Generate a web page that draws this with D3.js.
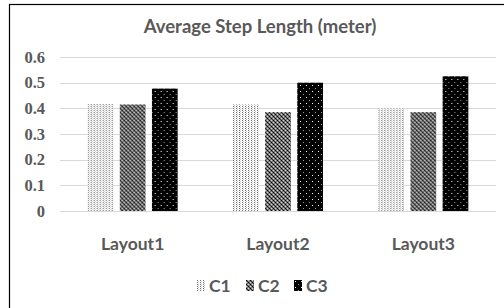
<!DOCTYPE html>
<html>
<head>
<meta charset="utf-8">
<script src="https://cdn.jsdelivr.net/npm/d3@7"></script>
<style>
body { margin: 0; background: #fff; }
.ytick { font-family: "Liberation Serif", "Times New Roman", "DejaVu Serif", serif; }
</style>
</head>
<body>
<script>
var categories = ["Layout1", "Layout2", "Layout3"];
var seriesNames = ["C1", "C2", "C3"];
var c1 = [0.417, 0.415, 0.40];
var c2 = [0.415, 0.385, 0.385];
var c3 = [0.477, 0.50, 0.525];
var yTicks = [0, 0.1, 0.2, 0.3, 0.4, 0.5, 0.6];

var seriesValues = [c1, c2, c3];
var width = 504, height = 308;

var svg = d3.select("body").append("svg")
  .attr("width", width)
  .attr("height", height);

var defs = svg.append("defs");

// C1: light dotted
var p1 = defs.append("pattern").attr("id", "pat-c1")
  .attr("patternUnits", "userSpaceOnUse").attr("width", 3).attr("height", 2);
p1.append("rect").attr("width", 3).attr("height", 2).attr("fill", "#ffffff");
p1.append("rect").attr("x", 0).attr("y", 0).attr("width", 1).attr("height", 1).attr("fill", "#6f6f6f");
p1.append("rect").attr("x", 1).attr("y", 1).attr("width", 1).attr("height", 1).attr("fill", "#c8c8c8");

// C2: gray checker / diamond
var p2 = defs.append("pattern").attr("id", "pat-c2")
  .attr("patternUnits", "userSpaceOnUse").attr("width", 4).attr("height", 4);
p2.append("rect").attr("width", 4).attr("height", 4).attr("fill", "#7a7a7a");
p2.append("rect").attr("x", 0).attr("y", 0).attr("width", 1).attr("height", 1).attr("fill", "#000");
p2.append("rect").attr("x", 2).attr("y", 2).attr("width", 1).attr("height", 1).attr("fill", "#000");
p2.append("rect").attr("x", 2).attr("y", 0).attr("width", 1).attr("height", 1).attr("fill", "#d0d0d0");
p2.append("rect").attr("x", 0).attr("y", 2).attr("width", 1).attr("height", 1).attr("fill", "#d0d0d0");
p2.append("rect").attr("x", 1).attr("y", 1).attr("width", 1).attr("height", 1).attr("fill", "#333");
p2.append("rect").attr("x", 3).attr("y", 3).attr("width", 1).attr("height", 1).attr("fill", "#333");

// C3: black with white dots
var p3 = defs.append("pattern").attr("id", "pat-c3")
  .attr("patternUnits", "userSpaceOnUse").attr("width", 6).attr("height", 6);
p3.append("rect").attr("width", 6).attr("height", 6).attr("fill", "#000");
p3.append("rect").attr("x", 1).attr("y", 1).attr("width", 1).attr("height", 1).attr("fill", "#ffffff");
p3.append("rect").attr("x", 4).attr("y", 4).attr("width", 1).attr("height", 1).attr("fill", "#9a9a9a");

var patterns = ["url(#pat-c1)", "url(#pat-c2)", "url(#pat-c3)"];

// outer frame (left/top edges visible)
svg.append("rect")
  .attr("x", 9.5).attr("y", 4.5)
  .attr("width", 500).attr("height", 310)
  .attr("fill", "none")
  .attr("stroke", "#000")
  .attr("stroke-width", 1.2);

var x = d3.scaleBand().domain(categories).range([60, 496]);
var xInner = d3.scaleBand().domain(seriesNames).range([0, 90]).paddingInner(0.2);
var y = d3.scaleLinear().domain([0, 0.6]).range([211, 57]);

// gridlines
svg.selectAll("line.grid")
  .data(yTicks)
  .enter()
  .append("line")
  .attr("class", "grid")
  .attr("x1", 60).attr("x2", 496)
  .attr("y1", function(d) { return Math.round(y(d)) + 0.5; })
  .attr("y2", function(d) { return Math.round(y(d)) + 0.5; })
  .attr("stroke", "#d9d9d9")
  .attr("stroke-width", 1);

// y tick labels
svg.selectAll("text.ytick")
  .data(yTicks)
  .enter()
  .append("text")
  .attr("class", "ytick")
  .attr("x", 45)
  .attr("y", function(d) { return y(d) + 5.5; })
  .attr("text-anchor", "end")
  .attr("font-weight", "bold")
  .attr("font-size", 16.5)
  .attr("fill", "#595959")
  .text(function(d) { return d === 0 ? "0" : d3.format(".1f")(d); });

// bars
var groups = svg.selectAll("g.cat")
  .data(categories)
  .enter()
  .append("g")
  .attr("class", "cat")
  .attr("transform", function(d) { return "translate(" + (x(d) + x.bandwidth() / 2 - 45) + ",0)"; });

groups.selectAll("rect")
  .data(function(d, i) {
    return seriesNames.map(function(s, j) { return {s: s, v: seriesValues[j][i], j: j}; });
  })
  .enter()
  .append("rect")
  .attr("x", function(d) { return xInner(d.s); })
  .attr("y", function(d) { return y(d.v); })
  .attr("width", xInner.bandwidth())
  .attr("height", function(d) { return y(0) - y(d.v); })
  .attr("fill", function(d) { return patterns[d.j]; });

// category labels
svg.selectAll("text.xlab")
  .data(categories)
  .enter()
  .append("text")
  .attr("class", "xlab")
  .attr("x", function(d) { return x(d) + x.bandwidth() / 2; })
  .attr("y", 250)
  .attr("text-anchor", "middle")
  .attr("font-family", "Lato, sans-serif")
  .attr("font-weight", "bold")
  .attr("font-size", 17.5)
  .attr("fill", "#595959")
  .text(function(d) { return d; });

// title
svg.append("text")
  .attr("x", 260)
  .attr("y", 33)
  .attr("text-anchor", "middle")
  .attr("font-family", "Lato, sans-serif")
  .attr("font-weight", "bold")
  .attr("font-size", 18.5)
  .attr("fill", "#595959")
  .text("Average Step Length (meter)");

// legend
var legendX = [197, 246, 294];
var legend = svg.selectAll("g.legend")
  .data(seriesNames)
  .enter()
  .append("g")
  .attr("class", "legend")
  .attr("transform", function(d, i) { return "translate(" + legendX[i] + ",280)"; });

legend.append("rect")
  .attr("width", 8).attr("height", 11)
  .attr("fill", function(d, i) { return patterns[i]; });

legend.append("text")
  .attr("x", 12)
  .attr("y", 12)
  .attr("font-family", "Lato, sans-serif")
  .attr("font-weight", "bold")
  .attr("font-size", 17.5)
  .attr("fill", "#595959")
  .text(function(d) { return d; });
</script>
</body>
</html>
